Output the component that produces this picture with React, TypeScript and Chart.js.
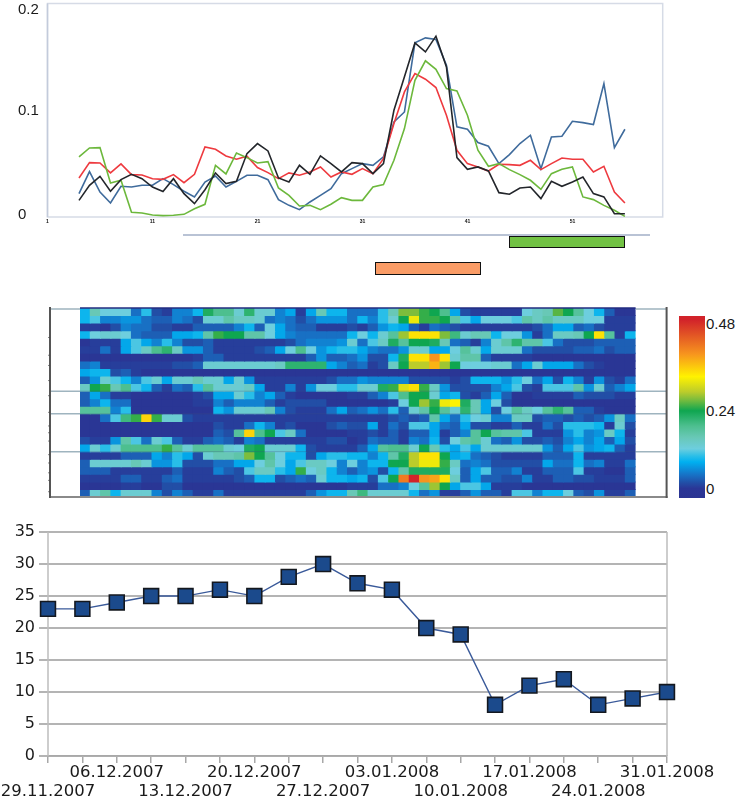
import React, { useEffect, useRef } from 'react';
import { Chart, registerables } from 'chart.js';

Chart.register(...registerables);

// top panel, readings start at sample 4
const firstSample = 4;
const blackSeries = [.0156,.0297,.0381,.0241,.035,.04,.0359,.0281,.0238,.0359,.0219,.0125,.0256,.0413,.0313,.0334,.0594,.0688,.0619,.0366,.0328,.0484,.04,.0572,.05,.0422,.0509,.05,.0406,.05,.1,.1313,.1631,.1547,.1694,.1406,.0556,.0447,.0469,.0431,.0228,.0213,.0272,.0281,.0172,.0334,.0288,.0328,.0375,.0219,.0188,.0031,.0031];
const greenSeries = [.0563,.0647,.065,.0319,.0344,.0044,.0038,.0019,.0013,.0016,.0025,.0078,.0119,.0484,.0403,.06,.0556,.0506,.0519,.0272,.0203,.0103,.0109,.0069,.0119,.0181,.0156,.0156,.0281,.0303,.0531,.0828,.1281,.1463,.1384,.1203,.1181,.0953,.0625,.0475,.05,.0444,.0397,.0344,.0259,.0406,.0447,.0469,.0188,.0163,.0109,.0063,.0006];
const redSeries = [.0366,.0509,.0506,.0413,.0497,.0397,.0394,.0359,.0353,.0397,.0322,.04,.0656,.0634,.0572,.0541,.0569,.0463,.0416,.0359,.0413,.0391,.0422,.0469,.0375,.0422,.04,.0453,.0406,.0547,.0875,.1172,.1344,.1291,.1213,.0953,.0625,.05,.0469,.0431,.0494,.0491,.0484,.0531,.0444,.05,.0553,.0541,.0541,.0422,.0475,.0234,.0131];
const blueSeries = [.0219,.0425,.0234,.0131,.0288,.0281,.0297,.0297,.0359,.0303,.0241,.0188,.0328,.0384,.0281,.0334,.0391,.0391,.035,.0163,.0109,.0069,.0141,.0203,.0266,.0406,.0453,.05,.0484,.0563,.0891,.0984,.1631,.1678,.1663,.1422,.0844,.0822,.0697,.0663,.05,.0584,.0688,.0766,.0453,.075,.0756,.0897,.0884,.0866,.125,.065,.0822];
const topTicks = [1, 11, 21, 31, 41, 51];

// heat map, one array per row, values x 100
const row01 = [10,16,13,13,13,6,11,4,3,7,7,10,22,19,19,14,21,14,14,7,9,3,9,16,10,10,6,6,6,11,16,26,26,24,23,19,9,4,3,3,3,3,3,13,15,16,25,23,18,13,10,5,2,2];
const row02 = [10,12,7,7,8,8,6,5,5,7,6,4,14,14,17,15,15,14,6,7,6,4,6,8,8,8,6,10,7,11,14,23,31,24,24,23,17,12,9,13,13,13,12,17,15,17,15,15,15,13,13,3,3,3];
const row03 = [3,3,2,4,7,6,6,4,4,3,3,5,5,5,5,7,10,5,13,9,6,5,5,3,3,3,4,3,5,8,10,9,5,3,6,5,4,3,3,3,3,3,3,3,4,6,9,9,5,6,4,3,3,3];
const row04 = [10,13,14,14,13,6,5,5,5,9,9,10,17,24,23,23,17,17,13,9,7,6,6,6,6,6,10,13,10,14,18,27,33,33,33,26,20,14,16,16,10,13,13,8,3,6,15,15,16,23,33,18,3,10];
const row05 = [2,3,3,3,9,12,9,7,11,7,4,4,5,3,3,3,3,3,3,3,4,6,7,7,7,8,14,6,12,15,22,18,23,23,22,16,6,5,3,7,14,17,21,17,17,12,6,4,4,4,5,5,5,5];
const row06 = [3,3,6,3,9,12,15,19,21,15,8,8,5,3,3,3,3,4,5,9,13,19,13,8,10,11,11,9,7,6,6,8,14,14,9,9,13,18,14,9,14,14,14,6,4,4,4,4,5,5,6,4,5,5];
const row07 = [2,2,2,2,2,2,2,2,2,2,2,3,5,5,3,3,3,3,3,3,3,3,5,8,5,5,6,8,4,4,10,22,33,33,38,33,14,17,17,5,3,3,3,3,2,2,2,2,2,2,2,2,2,2];
const row08 = [6,7,3,3,3,3,3,3,3,4,4,5,14,14,14,14,14,14,14,15,21,21,21,21,9,7,5,6,3,4,15,23,28,28,36,27,23,13,13,13,14,14,6,9,14,9,9,9,6,4,3,2,2,2];
const row09 = [9,10,10,4,5,3,2,2,2,2,2,2,2,2,2,2,2,2,2,2,2,2,2,2,2,2,2,2,2,2,2,2,2,2,2,2,2,2,2,2,2,2,2,2,2,2,2,2,2,2,2,2,2,2];
const row10 = [5,8,14,12,10,7,12,14,9,14,14,16,14,14,9,14,8,3,3,3,3,3,3,3,4,6,6,8,7,7,7,7,4,4,4,4,3,4,10,10,10,8,11,13,6,9,4,10,7,3,8,4,3,6];
const row11 = [15,23,24,16,19,12,10,5,3,6,5,11,18,14,14,14,15,9,3,3,7,3,8,13,13,11,11,14,14,22,24,30,33,24,15,8,4,4,4,4,7,9,12,4,3,12,12,12,17,8,14,5,7,9];
const row12 = [5,9,6,3,3,2,2,2,2,2,2,3,4,9,9,14,11,7,9,5,3,2,2,2,2,2,3,3,5,7,12,19,23,23,14,9,10,4,3,5,9,5,2,2,3,3,3,3,5,4,4,4,3,3];
const row13 = [5,7,10,6,6,2,2,2,2,2,2,3,3,7,5,7,7,7,5,3,4,4,4,4,2,2,2,2,2,2,3,13,23,27,24,31,32,22,16,9,13,4,2,2,2,2,2,2,2,2,2,2,2,2];
const row14 = [18,18,18,7,11,2,2,2,2,2,2,2,2,10,8,14,14,14,16,7,4,3,3,3,6,9,5,6,8,6,11,5,14,17,23,18,14,21,16,9,4,13,18,15,13,18,21,18,5,5,3,2,2,2];
const row15 = [2,2,6,12,20,24,34,24,14,14,4,3,3,3,3,3,3,3,3,3,3,3,3,3,3,3,3,3,3,3,4,5,4,5,17,9,6,11,13,14,7,7,15,15,4,5,5,4,5,4,5,8,15,6];
const row16 = [2,2,2,2,2,2,2,2,2,2,2,2,2,4,3,3,6,10,7,3,4,2,2,2,4,5,4,4,9,3,6,4,12,12,9,6,5,9,4,4,3,3,5,3,3,6,4,11,11,11,10,3,14,4];
const row17 = [2,2,2,2,2,2,2,2,2,2,2,2,2,5,4,18,34,19,23,12,15,6,2,2,2,2,3,3,4,3,5,3,5,5,9,3,5,7,18,23,18,17,17,12,3,3,3,8,11,7,8,15,10,3];
const row18 = [4,3,3,8,17,12,6,14,12,5,3,3,5,6,5,3,7,6,3,3,3,3,3,3,4,4,2,3,6,5,5,3,7,6,10,4,13,17,18,14,6,5,8,4,4,5,4,7,9,7,9,5,9,4];
const row19 = [9,14,11,14,19,19,19,19,24,18,14,18,18,18,14,13,22,23,14,14,14,10,4,3,3,3,3,5,9,18,19,19,14,23,16,11,9,12,9,14,14,14,14,14,14,8,5,9,12,8,9,10,5,3];
const row20 = [3,3,3,3,5,5,5,9,7,11,9,4,14,16,16,17,26,23,18,13,10,10,4,9,11,11,10,10,7,10,17,22,28,33,33,23,9,10,6,5,4,3,3,3,3,5,5,5,10,3,3,3,3,3];
const row21 = [5,14,14,14,14,16,14,8,8,11,4,4,4,6,6,9,9,13,17,13,9,12,15,15,13,7,13,7,10,10,23,23,28,31,31,24,15,6,7,6,4,4,4,4,4,9,6,6,10,6,7,3,3,6];
const row22 = [5,5,5,3,3,3,3,3,3,5,3,3,3,7,5,4,12,15,15,11,9,24,13,15,10,7,5,7,8,4,10,17,22,22,22,22,13,5,9,12,5,5,7,3,3,5,5,5,12,3,3,2,2,5];
const row23 = [3,3,3,3,5,5,3,3,5,6,3,3,3,3,3,4,5,10,10,4,5,6,5,14,10,10,9,10,4,12,23,40,47,38,37,33,15,5,9,5,5,4,4,7,3,3,5,5,4,4,3,3,3,5];
const row24 = [2,2,2,2,3,3,2,2,4,4,2,2,2,2,2,2,2,2,2,2,2,2,2,2,2,2,3,3,3,6,6,7,13,18,27,23,9,12,12,9,3,3,3,2,2,2,2,2,2,2,2,2,2,2];
const row25 = [5,14,17,10,14,14,14,7,4,7,5,3,3,6,3,3,3,3,3,3,3,3,5,8,10,10,16,20,14,14,14,14,10,6,8,3,3,5,8,5,5,3,12,12,7,10,10,13,5,4,8,3,3,5];
const heatRows = [row01,row02,row03,row04,row05,row06,row07,row08,row09,row10,row11,row12,row13,row14,row15,row16,row17,row18,row19,row20,row21,row22,row23,row24,row25];
const separatorRows = [0, 11, 14, 19];
const sideMarkRows = [3.9, 6.25, 7.6, 9.6, 11.6, 13.8, 15.6, 16.5, 17.6, 19.4, 20.5, 21.8, 22.8, 24.3];

// colour scale, [value x 100, r, g, b]
const colourStops = [[0,43,52,146],[2.5,42,54,150],[4,34,78,166],[6,24,112,196],[8,10,148,222],[9.5,0,176,240],[11,40,190,232],[13,109,206,222],[16,104,200,182],[19,77,191,143],[23,15,166,80],[26,125,189,60],[28,188,204,43],[32,255,242,0],[38,247,148,30],[47,210,35,42],[48,210,35,42]];

// bottom panel
const dateLabels = ['29.11.2007','','06.12.2007','','13.12.2007','','20.12.2007','','27.12.2007','','03.01.2008','','10.01.2008','','17.01.2008','','24.01.2008','','31.01.2008'];
const dailyValues = [23,23,24,25,25,26,25,28,30,27,26,20,19,8,11,12,8,9,10];

const cellColour = (v: number) => {
  for (let i = 1; i < colourStops.length; i++) {
    const a = colourStops[i - 1];
    const b = colourStops[i];
    if (v <= b[0]) {
      const t = (v - a[0]) / (b[0] - a[0]);
      const mix = (k: number) => Math.round(a[k] + (b[k] - a[k]) * t);
      return `rgb(${mix(1)},${mix(2)},${mix(3)})`;
    }
  }
  return 'rgb(210,35,42)';
};

const barGradient = 'linear-gradient(to top,' + colourStops.map(s => `rgb(${s[1]},${s[2]},${s[3]}) ${(s[0] / 48) * 100}%`).join(',') + ')';

const toPoints = (values: number[]) => values.map((y, i) => ({ x: firstSample + i, y }));

const lineSet = (data: number[], borderColor: string) => ({
  data: toPoints(data),
  borderColor,
  borderWidth: 1.6,
  pointRadius: 0,
  tension: 0,
  fill: false,
});

const frameLines = {
  id: 'frameLines',
  beforeDatasetsDraw(chart: any) {
    const { ctx, chartArea: a, scales } = chart;
    ctx.save();
    ctx.strokeStyle = '#d6dbe6';
    ctx.lineWidth = 1.5;
    ctx.strokeRect(a.left, a.top, a.right - a.left, a.bottom - a.top);
    ctx.strokeStyle = '#c3cbdb';
    ctx.beginPath();
    ctx.moveTo(a.left, a.top);
    ctx.lineTo(a.left, a.bottom);
    ctx.stroke();
    // the sample numbers under this panel are almost too small to read
    ctx.fillStyle = '#111';
    ctx.font = 'bold 5px "Liberation Sans"';
    ctx.textAlign = 'center';
    ctx.textBaseline = 'middle';
    topTicks.forEach(t => ctx.fillText(String(t), scales.x.getPixelForValue(t), a.bottom + 5));
    ctx.restore();
  },
};

const heatFrame = {
  id: 'heatFrame',
  afterDatasetsDraw(chart: any) {
    const { ctx, chartArea: a, scales } = chart;
    const leftX = a.left - 30;
    const rightX = a.right + 31;
    ctx.save();
    separatorRows.forEach(r => {
      const y = scales.y.getPixelForValue(r) + (r === 0 ? 1 : 0);
      ctx.strokeStyle = '#9fb4bf';
      ctx.lineWidth = 1.5;
      ctx.beginPath();
      ctx.moveTo(leftX, y);
      ctx.lineTo(a.left, y);
      ctx.moveTo(a.right, y);
      ctx.lineTo(rightX, y);
      ctx.stroke();
      ctx.strokeStyle = r === 0 ? '#232c80' : 'rgba(60,80,130,0.3)';
      ctx.lineWidth = r === 0 ? 1.5 : 1;
      ctx.beginPath();
      ctx.moveTo(a.left, r === 0 ? a.top : y);
      ctx.lineTo(a.right, r === 0 ? a.top : y);
      ctx.stroke();
    });
    ctx.strokeStyle = '#8a8a8a';
    ctx.lineWidth = 2;
    ctx.beginPath();
    ctx.moveTo(leftX, a.bottom);
    ctx.lineTo(rightX + 1, a.bottom);
    ctx.stroke();
    ctx.strokeStyle = '#555';
    ctx.beginPath();
    ctx.moveTo(leftX, a.top - 1);
    ctx.lineTo(leftX, a.bottom + 1);
    ctx.moveTo(rightX, a.top - 1);
    ctx.lineTo(rightX, a.bottom + 1);
    ctx.stroke();
    ctx.fillStyle = 'rgba(60,60,60,0.6)';
    sideMarkRows.forEach(r => {
      ctx.fillRect(leftX - 2, scales.y.getPixelForValue(r) - 0.5, 1.5, 1);
    });
    ctx.restore();
  },
};

const bottomEdges = {
  id: 'bottomEdges',
  beforeDatasetsDraw(chart: any) {
    const { ctx, chartArea: a } = chart;
    ctx.save();
    ctx.strokeStyle = '#bdbdbd';
    ctx.lineWidth = 1.5;
    ctx.beginPath();
    ctx.moveTo(a.left, a.top);
    ctx.lineTo(a.left, a.bottom);
    ctx.moveTo(a.right, a.top);
    ctx.lineTo(a.right, a.bottom);
    ctx.stroke();
    ctx.restore();
  },
};

const canvasStyle = (left: number, top: number, filter?: string): React.CSSProperties => ({ position: 'absolute', left, top, display: 'block', filter });

const sideLabel = (top: number, left = 18): React.CSSProperties => ({
  position: 'absolute',
  left,
  top,
  fontFamily: '"Liberation Sans", sans-serif',
  fontSize: 15,
  lineHeight: '16px',
  color: '#1a1a1a',
});

export default function App() {
  const topRef = useRef<HTMLCanvasElement>(null);
  const heatRef = useRef<HTMLCanvasElement>(null);
  const dailyRef = useRef<HTMLCanvasElement>(null);

  useEffect(() => {
    const topChart = new Chart(topRef.current!, {
      type: 'line',
      data: {
        datasets: [
          lineSet(blackSeries, '#23262b'),
          lineSet(greenSeries, '#6cb83c'),
          lineSet(redSeries, '#ee3a3f'),
          lineSet(blueSeries, '#3f6b9c'),
        ],
      },
      plugins: [frameLines],
      options: {
        animation: false,
        responsive: false,
        layout: { padding: { left: 47.5, top: 3.5, right: 37.3, bottom: 15 } },
        plugins: { legend: { display: false }, tooltip: { enabled: false } },
        scales: {
          x: { display: false, type: 'linear', min: 1, max: 59.6 },
          y: { display: false, min: 0, max: 0.2 },
        },
      },
    } as any);

    const columns = heatRows[0].map((_, i) => String(i + 1));
    const heatChart = new Chart(heatRef.current!, {
      type: 'bar',
      data: {
        labels: columns,
        datasets: heatRows.map(row => ({
          data: row.map(() => 1),
          backgroundColor: row.map(cellColour),
          borderWidth: 0,
          barPercentage: 1,
          categoryPercentage: 1,
          inflateAmount: 0.5,
        })),
      },
      plugins: [heatFrame],
      options: {
        animation: false,
        responsive: false,
        layout: { padding: { left: 36, right: 38.4, top: 4, bottom: 4 } },
        plugins: { legend: { display: false }, tooltip: { enabled: false } },
        scales: {
          x: { display: false, stacked: true },
          y: { display: false, stacked: true, reverse: true, min: 0, max: heatRows.length },
        },
      },
    } as any);

    const dailyChart = new Chart(dailyRef.current!, {
      type: 'line',
      data: {
        labels: dateLabels.map((d, i) => (i % 4 === 0 ? ['', d] : [d, ''])),
        datasets: [{
          data: dailyValues,
          borderColor: '#3a5a9a',
          borderWidth: 1.4,
          tension: 0,
          fill: false,
          pointStyle: 'rect',
          pointRadius: 10.5,
          pointBorderWidth: 1.6,
          pointBackgroundColor: '#1b4a8c',
          pointBorderColor: '#14181f',
        }],
      },
      plugins: [bottomEdges],
      options: {
        animation: false,
        responsive: false,
        clip: false,
        layout: { padding: { left: 0, right: 70, top: 11, bottom: 0 } },
        plugins: { legend: { display: false }, tooltip: { enabled: false } },
        scales: {
          x: {
            offset: false,
            grid: { drawOnChartArea: false, color: '#a8a8a8', lineWidth: 1.5, tickLength: 7 },
            border: { color: '#a8a8a8', width: 1.5 },
            afterFit: (s: any) => { s.height = 41; s.paddingLeft = 0; s.paddingRight = 0; },
            ticks: { autoSkip: false, maxRotation: 0, padding: 0, color: '#1a1a1a', font: { family: 'DejaVu Sans', size: 16.5, lineHeight: 1.17 } },
          },
          y: {
            min: 0,
            max: 35,
            grid: { color: '#b4b4b4', lineWidth: 2, tickLength: 9 },
            border: { display: false },
            afterFit: (s: any) => { s.width = 48; s.paddingTop = 0; s.paddingBottom = 0; },
            ticks: { stepSize: 5, padding: 4, color: '#1a1a1a', font: { family: 'DejaVu Sans', size: 16 } },
          },
        },
      },
    } as any);

    return () => {
      topChart.destroy();
      heatChart.destroy();
      dailyChart.destroy();
    };
  }, []);

  return (
    <div style={{ position: 'absolute', left: 0, top: 0, width: 737, height: 797, overflow: 'hidden', background: '#fff' }}>
      <canvas ref={topRef} width={700} height={232} style={canvasStyle(0, 0)} />
      <span style={sideLabel(1)}>0.2</span>
      <span style={sideLabel(102)}>0.1</span>
      <span style={sideLabel(206)}>0</span>
      <div style={{ position: 'absolute', left: 183, top: 234, width: 467, height: 1.5, background: '#b9c3d5' }} />
      <div style={{ position: 'absolute', left: 509, top: 236, width: 114, height: 10, background: '#72c244', border: '1.5px solid #111' }} />
      <div style={{ position: 'absolute', left: 375, top: 262, width: 104, height: 11, background: '#fa9c66', border: '1.5px solid #111' }} />

      <canvas ref={heatRef} width={630} height={197} style={canvasStyle(44, 304, 'blur(0.4px)')} />
      <div style={{ position: 'absolute', left: 679, top: 316, width: 26, height: 182, background: barGradient }} />
      <span style={sideLabel(316, 706)}>0.48</span>
      <span style={sideLabel(403, 706)}>0.24</span>
      <span style={sideLabel(481, 706)}>0</span>

      <canvas ref={dailyRef} width={737} height={277} style={canvasStyle(0, 520)} />
    </div>
  );
}
